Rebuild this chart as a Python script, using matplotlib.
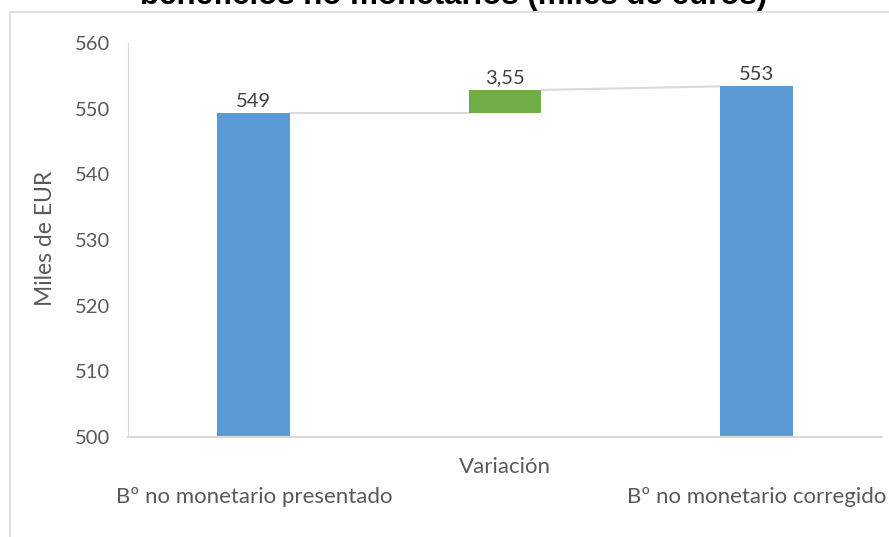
import matplotlib.pyplot as plt
from matplotlib.patches import Rectangle

categorias = ['Bº no monetario presentado', 'Variación', 'Bº no monetario corregido']
inicial = 549.3
variacion = 3.55
final = 553.4
etiquetas = ['549', '3,55', '553']

plt.rcParams['font.family'] = ['Lato', 'DejaVu Sans']
gris = '#595959'

fig = plt.figure(figsize=(8.89, 5.37), dpi=100)
ax = fig.add_axes([128/889, 1 - 437/537, (882-128)/889, (437-43)/537])

# marco del grafico
fig.patches.append(Rectangle((10/889, -0.1), 1.1, 1 - 12/537 + 0.1,
                             transform=fig.transFigure, fill=False,
                             edgecolor='#d9d9d9', lw=1.2))

w = 0.29
ax.bar(0, inicial - 500, bottom=500, width=w, color='#5B9BD5')
ax.bar(1, variacion, bottom=inicial, width=w, color='#70AD47')
ax.bar(2, final - 500, bottom=500, width=w, color='#5B9BD5')

# conectores
ax.plot([w/2, 1 - w/2], [inicial, inicial], color='#d9d9d9', lw=1.5, zorder=0)
ax.plot([1 + w/2, 2 - w/2], [inicial + variacion, final], color='#d9d9d9', lw=1.5, zorder=0)

tops = [inicial, inicial + variacion, final]
for i in range(3):
    ax.text(i, tops[i] + 0.5, etiquetas[i], ha='center', va='bottom',
            fontsize=14.5, color='#404040')

ax.set_xlim(-0.5, 2.5)
ax.set_ylim(500, 560)
ax.set_yticks(range(500, 561, 10))
ax.tick_params(axis='y', length=0, labelsize=14.5, labelcolor=gris, pad=13)
ax.set_xticks([])

fig.text(254/889, 1 - 497/537, categorias[0], ha='center', va='center', fontsize=16, color=gris)
fig.text(505/889, 1 - 467/537, categorias[1], ha='center', va='center', fontsize=16, color=gris)
fig.text(757/889, 1 - 497/537, categorias[2], ha='center', va='center', fontsize=16, color=gris)

fig.text(45/889, 1 - 238/537, 'Miles de EUR', rotation=90, ha='center', va='center',
         fontsize=16.5, color=gris)

for s in ['top', 'right']:
    ax.spines[s].set_visible(False)
ax.spines['left'].set_color('#d9d9d9')
ax.spines['bottom'].set_color('#d9d9d9')
ax.spines['bottom'].set_linewidth(1.5)

fig.text(454/889, 1 - 4/537, 'beneficios no monetarios (miles de euros)', ha='center',
         va='baseline', fontsize=22.5, fontweight='bold', family='Liberation Sans')

fig.savefig('out.png', dpi=100)
